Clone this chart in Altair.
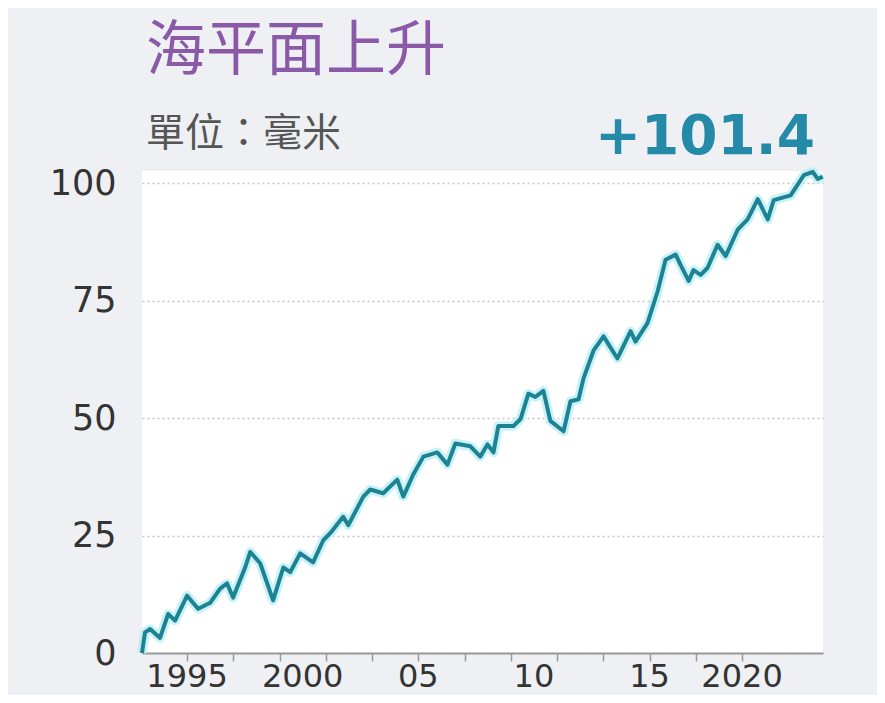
import altair as alt
import pandas as pd

# ---- data ----
years = [1993.05, 1993.18, 1993.40, 1993.83, 1994.18, 1994.48, 1995.00, 1995.48,
         1996.00, 1996.43, 1996.73, 1996.99, 1997.51, 1997.73, 1998.16, 1998.72,
         1999.16, 1999.46, 1999.89, 2000.45, 2000.89, 2001.19, 2001.75, 2001.97,
         2002.62, 2002.92, 2003.48, 2004.09, 2004.35, 2004.78, 2005.22, 2005.82,
         2006.26, 2006.60, 2007.25, 2007.68, 2007.99, 2008.25, 2008.46, 2009.11,
         2009.42, 2009.76, 2010.06, 2010.41, 2010.71, 2011.28, 2011.58, 2011.93,
         2012.14, 2012.58, 2013.01, 2013.61, 2014.18, 2014.39, 2014.91, 2015.35,
         2015.69, 2016.13, 2016.34, 2016.69, 2016.90, 2017.21, 2017.51, 2017.94,
         2018.29, 2018.81, 2019.24, 2019.68, 2020.11, 2020.37, 2021.10, 2021.67,
         2022.06, 2022.27, 2022.49]
values = [0, 4.4, 5.1, 3.2, 8.3, 6.9, 12.2, 9.4,
          10.7, 13.7, 14.8, 11.8, 18.2, 21.5, 19.1, 11.2,
          18.2, 17.2, 21.2, 19.3, 24.0, 25.5, 29.0, 27.2,
          33.3, 34.8, 34.0, 36.9, 33.3, 38.0, 41.8, 42.7,
          40.1, 44.6, 44.0, 41.8, 44.4, 42.7, 48.3, 48.3,
          49.8, 55.2, 54.5, 55.8, 49.4, 47.2, 53.6, 54.0,
          58.4, 64.4, 67.4, 62.7, 68.5, 66.3, 70.2, 77.0,
          83.7, 84.8, 82.6, 79.2, 81.5, 80.5, 82.0, 86.9,
          84.5, 90.1, 92.3, 96.6, 92.3, 96.4, 97.4, 101.7,
          102.4, 100.9, 101.4]

tick_years = [1995, 1997, 1999, 2001, 2003, 2005, 2007, 2009, 2011, 2013, 2015, 2017, 2019]
label_years = [1995, 2000, 2005, 2010, 2015, 2019]
label_texts = ["1995", "2000", "05", "10", "15", "2020"]
y_ticks = [0, 25, 50, 75, 100]

title_text = "海平面上升"
unit_text = "單位：毫米"
total_text = "+101.4"

df_line = pd.DataFrame({"year": years, "value": values})
df_lab = pd.DataFrame({"year": label_years, "label": label_texts})

W, H = 681, 482

x_axis = alt.Axis(values=tick_years, labels=False, grid=False, title=None,
                  tickSize=8, tickColor="#9a9a9a", tickWidth=1.5,
                  domainColor="#9a9a9a", domainWidth=2)
x_scale = alt.Scale(domain=[1993.05, 2022.5], nice=False, zero=False)

def X():
    return alt.X("year:Q", scale=x_scale, axis=x_axis)

y_enc = alt.Y("value:Q",
              scale=alt.Scale(domain=[0, 102.6], nice=False),
              axis=alt.Axis(values=y_ticks, title=None, domain=False, ticks=False,
                            grid=True, gridDash=[2, 3], gridColor="#c4c4c4", gridWidth=1.5,
                            labelPadding=26, labelFontSize=35, labelFont="DejaVu Sans",
                            labelColor="#333333"))

glow = alt.Chart(df_line).mark_line(color="#b6eef4", strokeWidth=9.5, opacity=0.75,
                                    strokeJoin="round").encode(x=X(), y=y_enc)
line = alt.Chart(df_line).mark_line(color="#1d8393", strokeWidth=4,
                                    strokeJoin="round").encode(x=X(), y=y_enc)

xlabels = alt.Chart(df_lab).mark_text(font="DejaVu Sans", fontSize=32, color="#333333",
                                      baseline="middle", align="center").encode(
    x=X(), y=alt.value(H + 24), text="label:N")

title = alt.Chart(pd.DataFrame({"t": [title_text]})).mark_text(
    font="Noto Sans CJK TC", fontSize=60, color="#8a5aa8", align="left",
    baseline="middle").encode(x=alt.value(4), y=alt.value(-119), text="t:N")

unit = alt.Chart(pd.DataFrame({"t": [unit_text]})).mark_text(
    font="Noto Sans CJK TC", fontSize=39, color="#555555", align="left",
    baseline="middle").encode(x=alt.value(4), y=alt.value(-37), text="t:N")

total = alt.Chart(pd.DataFrame({"t": [total_text]})).mark_text(
    font="DejaVu Sans", fontWeight="bold", fontSize=55, color="#2589a8", align="right",
    baseline="middle").encode(x=alt.value(673), y=alt.value(-34), text="t:N")

chart = alt.layer(glow, line, xlabels, title, unit, total).properties(
    width=W, height=H,
    autosize=alt.AutoSizeParams(type="none"),
    padding={"left": 134, "top": 163, "right": 54, "bottom": 42},
    background="#eef0f4",
).configure_view(fill="white", stroke=None)

chart.save("out.html", embed_options={"renderer": "svg", "actions": False})
